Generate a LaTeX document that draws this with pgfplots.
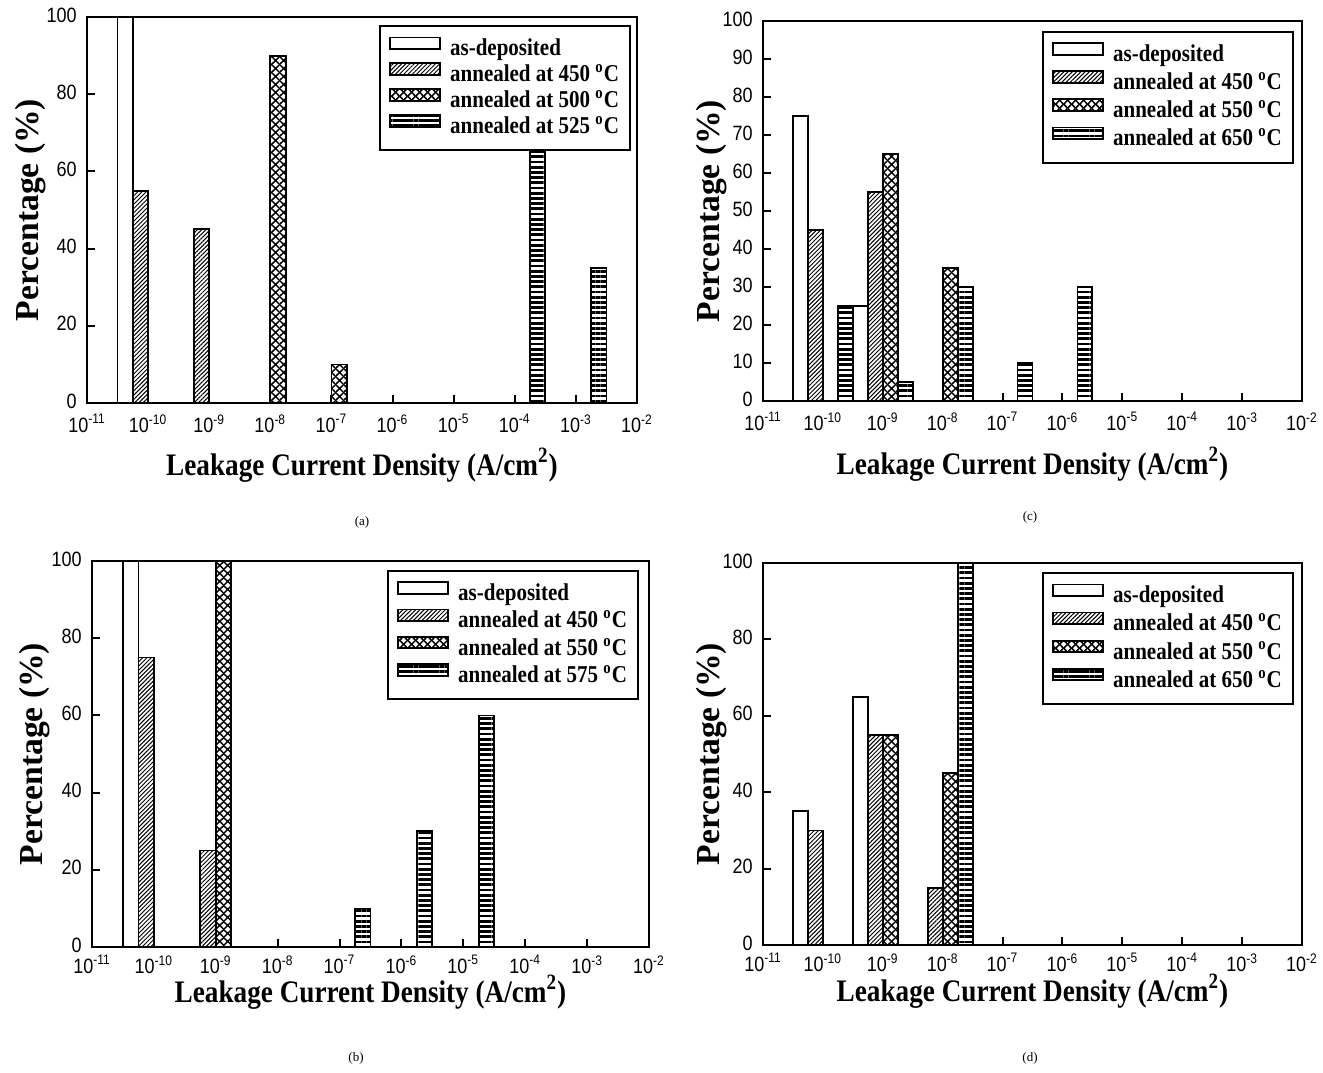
\documentclass[border=0pt]{standalone}
\usepackage{fontspec}
\setmainfont{Liberation Serif}
\setsansfont{Liberation Sans}
\usepackage{graphicx}
\usepackage{pgfplots}
\pgfplotsset{compat=1.18}
\usetikzlibrary{patterns.meta}

% thick crosshatch, leaves small white diamonds
\pgfdeclarepattern{
  name=thickcross,
  bottom left={\pgfpoint{0pt}{0pt}},
  top right={\pgfpoint{4pt}{4pt}},
  tile size={\pgfpoint{4pt}{4pt}},
  code={
    \pgfsetlinewidth{0.8pt}
    \pgfpathmoveto{\pgfpoint{-1pt}{-1pt}}\pgfpathlineto{\pgfpoint{5pt}{5pt}}
    \pgfpathmoveto{\pgfpoint{-1pt}{5pt}}\pgfpathlineto{\pgfpoint{5pt}{-1pt}}
    \pgfusepath{stroke}
  }
}

% the scan is a little stretched upward, so the text is too
\newcommand{\tl}[1]{\scalebox{1}[1.15]{#1}}
\newcommand{\pw}[1]{\scalebox{1}[1.15]{10\textsuperscript{#1}}}

\pgfplotsset{
  asdep/.style={draw=black, line width=0.9pt, fill=white},
  hatch/.style={draw=black, line width=0.9pt, pattern={Lines[angle=45,distance=1.5pt,line width=0.5pt]}},
  cross/.style={draw=black, line width=0.9pt, pattern=thickcross},
  stripe/.style={draw=black, line width=0.9pt, pattern={Lines[angle=0,distance=2.6pt,line width=1.4pt]}},
  leak/.style={
    scale only axis, ybar, bar width=0.25,
    xmin=-11, xmax=-2, ymin=0, ymax=100,
    xtick={-11,-10,...,-2},
    xticklabels={\pw{-11},\pw{-10},\pw{-9},\pw{-8},\pw{-7},\pw{-6},\pw{-5},\pw{-4},\pw{-3},\pw{-2}},
    tick pos=left, tick align=inside, major tick length=4pt,
    every tick/.style={black, line width=1pt},
    axis line style={line width=1.3pt},
    ticklabel style={font=\sffamily\fontsize{9}{10}\selectfont, inner sep=0pt},
    /pgf/number format/assume math mode=true,
    yticklabel={\tl{\pgfmathprintnumber{\tick}}},
    yticklabel style={xshift=-5pt, yshift=1pt},
    xticklabel style={yshift=-5.5pt},
    xlabel={\tl{Leakage Current Density (A/cm\textsuperscript{2})}},
    ylabel={Percentage (\%)},
    xlabel style={font=\bfseries\fontsize{13.6}{15}\selectfont, at={(axis description cs:0.5,0)}, anchor=base, inner sep=0pt},
    ylabel style={font=\bfseries\fontsize{16.8}{18}\selectfont, anchor=base},
    legend style={draw=black, line width=1pt, font=\bfseries\fontsize{10.5}{12}\selectfont,
      inner xsep=4.7pt, inner ysep=5.2pt, column sep=3.9pt, row sep=0.1pt,
      nodes={inner sep=0.8pt, text height=8pt, text depth=2.4pt}, anchor=north east},
    legend cell align=left,
    legend image code/.code={\draw[##1] (0pt,0.6pt) rectangle (25pt,6.4pt);},
  },
}

\begin{document}
\begin{tikzpicture}
\path[use as bounding box] (0,0) rectangle (661.5pt,-536pt);

% (a)
\begin{axis}[leak, at={(43.5pt,-201.5pt)}, anchor=south west, width=275pt, height=193pt,
  ytick={0,20,...,100},
  xlabel style={yshift=-36pt},
  ylabel style={at={(axis description cs:-0.088,0.5)}},
  legend style={at={(0.989,0.979)}}]
\addplot[asdep, bar shift=-0.375] coordinates {(-10,100)};
\addplot[hatch, bar shift=-0.125] coordinates {(-10,55) (-9,45)};
\addplot[cross, bar shift=0.125] coordinates {(-8,90) (-7,10)};
\addplot[stripe, bar shift=0.375] coordinates {(-4,65) (-3,35)};
\legend{\tl{as-deposited}, \tl{annealed at 450 \textsuperscript{o}C}, \tl{annealed at 500 \textsuperscript{o}C}, \tl{annealed at 525 \textsuperscript{o}C}}
\end{axis}

% (b)
\begin{axis}[leak, at={(46pt,-473.5pt)}, anchor=south west, width=278.5pt, height=193pt,
  ytick={0,20,...,100},
  xticklabel style={yshift=1.5pt},
  xlabel style={yshift=-27.5pt},
  ylabel style={at={(axis description cs:-0.088,0.5)}},
  legend style={at={(0.982,0.977)}, row sep=0.8pt}]
\addplot[asdep, bar shift=-0.375] coordinates {(-10,100)};
\addplot[hatch, bar shift=-0.125] coordinates {(-10,75) (-9,25)};
\addplot[cross, bar shift=0.125] coordinates {(-9,100)};
\addplot[stripe, bar shift=0.375] coordinates {(-7,10) (-6,30) (-5,60)};
\legend{\tl{as-deposited}, \tl{annealed at 450 \textsuperscript{o}C}, \tl{annealed at 550 \textsuperscript{o}C}, \tl{annealed at 575 \textsuperscript{o}C}}
\end{axis}

% (c)
\begin{axis}[leak, at={(381.5pt,-200.5pt)}, anchor=south west, width=269.5pt, height=190pt,
  ytick={0,10,...,100},
  xlabel style={yshift=-36.5pt},
  ylabel style={at={(axis description cs:-0.08,0.5)}},
  legend style={at={(0.985,0.974)}, row sep=1.2pt}]
\addplot[asdep, bar shift=-0.375] coordinates {(-10,75) (-9,25)};
\addplot[hatch, bar shift=-0.125] coordinates {(-10,45) (-9,55)};
\addplot[cross, bar shift=0.125] coordinates {(-9,65) (-8,35)};
\addplot[stripe, bar shift=0.375] coordinates {(-10,25) (-9,5) (-8,30) (-7,10) (-6,30)};
\legend{\tl{as-deposited}, \tl{annealed at 450 \textsuperscript{o}C}, \tl{annealed at 550 \textsuperscript{o}C}, \tl{annealed at 650 \textsuperscript{o}C}}
\end{axis}

% (d)
\begin{axis}[leak, at={(381.5pt,-472.5pt)}, anchor=south west, width=269.5pt, height=191pt,
  ytick={0,20,...,100},
  xticklabel style={yshift=1.5pt},
  xlabel style={yshift=-28pt},
  ylabel style={at={(axis description cs:-0.08,0.5)}},
  legend style={at={(0.985,0.976)}, row sep=1.2pt}]
\addplot[asdep, bar shift=-0.375] coordinates {(-10,35) (-9,65)};
\addplot[hatch, bar shift=-0.125] coordinates {(-10,30) (-9,55) (-8,15)};
\addplot[cross, bar shift=0.125] coordinates {(-9,55) (-8,45)};
\addplot[stripe, bar shift=0.375] coordinates {(-8,100)};
\legend{\tl{as-deposited}, \tl{annealed at 450 \textsuperscript{o}C}, \tl{annealed at 550 \textsuperscript{o}C}, \tl{annealed at 650 \textsuperscript{o}C}}
\end{axis}

\node[font=\fontsize{6.5}{7}\selectfont] at (181pt,-261pt) {(a)};
\node[font=\fontsize{6.5}{7}\selectfont] at (515pt,-258.5pt) {(c)};
\node[font=\fontsize{6.5}{7}\selectfont] at (178pt,-529pt) {(b)};
\node[font=\fontsize{6.5}{7}\selectfont] at (515pt,-529pt) {(d)};
\end{tikzpicture}
\end{document}
